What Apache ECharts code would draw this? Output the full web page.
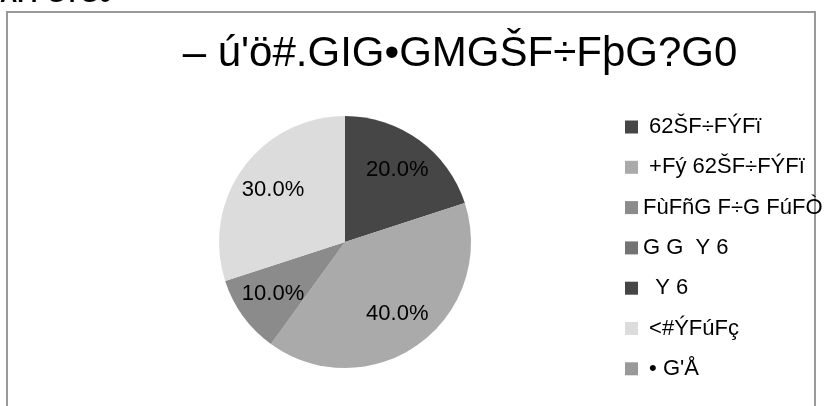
<!DOCTYPE html>
<html><head><meta charset="utf-8">
<script src="https://cdn.jsdelivr.net/npm/echarts@6/dist/echarts.min.js"></script>
<style>html,body{margin:0;padding:0;background:#fff}#c{width:826px;height:406px}</style>
</head><body><div id="c"></div>
<script>
const titleText = "– ú'ö#.GIG•GMGŠF÷FþG?G0";
const cutText = "AÍ ÞG?G0";
const categories = [" 62ŠF÷FÝFï", " +Fý 62ŠF÷FÝFï", "FùFñG F÷G FúFÒ", "G G  Y 6", "  Y 6", " <#ÝFúFç", " • G'Å"];
const values = [20, 40, 10, 0, 0, 30, 0];
const colors = ["#464646", "#aaaaaa", "#8b8b8b", "#737373", "#464646", "#dcdcdc", "#999999"];

const FONT = "Liberation Sans, Arial, sans-serif";
const total = values.reduce((a, b) => a + b, 0);
const pieData = categories.map((n, i) => ({ name: n, value: values[i], itemStyle: { color: colors[i] } }));
const labelData = categories.map((n, i) => ({
  name: n, value: values[i],
  label: { show: values[i] > 0 }
}));

const chart = echarts.init(document.getElementById('c'), null, { renderer: 'canvas' });
chart.setOption({
  backgroundColor: '#fff',
  animation: false,
  graphic: [
    { type: 'rect', shape: { x: 7, y: 12, width: 808, height: 420 }, style: { fill: 'none', stroke: '#999', lineWidth: 2 }, silent: true },
    { type: 'text', x: 0, y: -17, style: { text: cutText, font: 'bold 24px ' + FONT, fill: '#000' }, silent: true }
  ],
  title: {
    text: titleText, left: 460, top: 30, textAlign: 'center', padding: 0,
    textStyle: { fontFamily: FONT, fontSize: 42, lineHeight: 48, fontWeight: 'normal', color: '#000' }
  },
  legend: {
    orient: 'vertical', left: 625, top: 116, padding: 0,
    itemWidth: 13, itemHeight: 13, itemGap: 18.3, itemTextGap: 5, icon: 'rect',
    selectedMode: false,
    data: categories,
    textStyle: { fontFamily: FONT, fontSize: 22, lineHeight: 22, color: '#000' }
  },
  series: [
    {
      type: 'pie', center: [345, 242], radius: [0, 126], startAngle: 90, clockwise: true,
      silent: true, avoidLabelOverlap: false, minAngle: 0,
      label: { show: false }, labelLine: { show: false },
      itemStyle: { borderWidth: 0 },
      data: pieData
    },
    {
      type: 'pie', center: [345, 242], radius: [0, 172], startAngle: 90, clockwise: true,
      silent: true, avoidLabelOverlap: false,
      itemStyle: { color: 'rgba(0,0,0,0)', borderWidth: 0 },
      label: {
        position: 'inside', fontFamily: FONT, fontSize: 22, color: '#000',
        formatter: p => (p.value / total * 100).toFixed(1) + '%'
      },
      labelLine: { show: false },
      data: labelData
    }
  ]
});
</script></body></html>
